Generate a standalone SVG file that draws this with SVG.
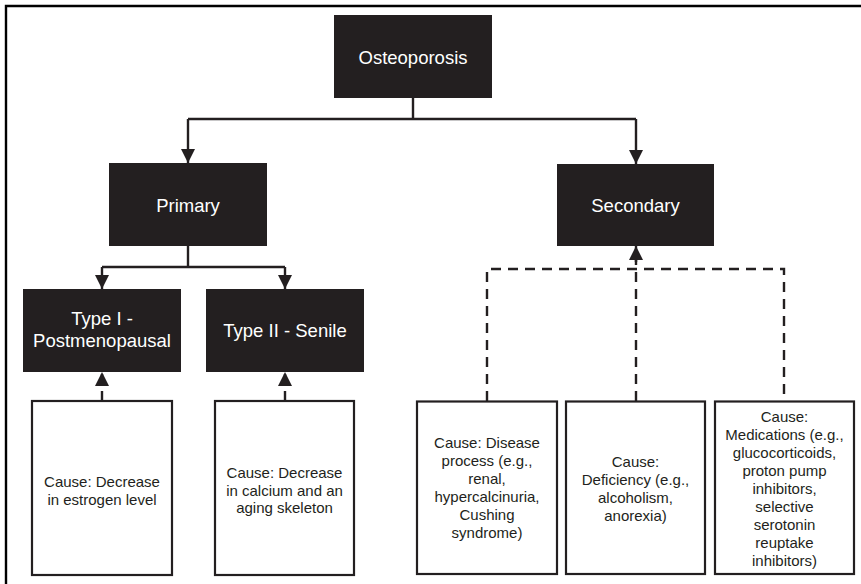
<svg xmlns="http://www.w3.org/2000/svg" width="861" height="584" viewBox="0 0 861 584">
<defs>
<style>
.dark{fill:#231f20;}
.cause{fill:#ffffff;stroke:#231f20;stroke-width:2.2;}
.lbl{font-family:"Liberation Sans",Arial,sans-serif;font-size:18.5px;fill:#ffffff;text-anchor:middle;}
.txt{font-family:"Liberation Sans",Arial,sans-serif;font-size:15px;fill:#231f20;text-anchor:middle;}
.conn{fill:none;stroke:#231f20;stroke-width:2.4;}
.dash{stroke-dasharray:10 7;}
.frame{fill:none;stroke:#000000;stroke-width:2.4;}
</style>
<marker id="arr" markerUnits="userSpaceOnUse" markerWidth="14" markerHeight="14" viewBox="0 0 13 13" refX="13" refY="6.5" orient="auto">
<path d="M0,0 L13,6.5 L0,13 Z" fill="#231f20"/>
</marker>
</defs>
<rect width="861" height="584" fill="#ffffff"/>
<path class="frame" d="M6,584 V6 H861"/>

<g id="connectors">
<path class="conn" d="M413,98 V119"/>
<path class="conn" d="M188,119 H636"/>
<path class="conn" d="M188,119 V163" marker-end="url(#arr)"/>
<path class="conn" d="M636,119 V164" marker-end="url(#arr)"/>
<path class="conn" d="M188,246 V267"/>
<path class="conn" d="M102,267 H285"/>
<path class="conn" d="M102,267 V289" marker-end="url(#arr)"/>
<path class="conn" d="M285,267 V289" marker-end="url(#arr)"/>
<path class="conn dash" d="M102,401 V372" marker-end="url(#arr)"/>
<path class="conn dash" d="M285,401 V372" marker-end="url(#arr)"/>
<path class="conn dash" d="M487,401 V269 H784 V401"/>
<path class="conn dash" d="M636,401 V258"/>
<path class="conn" d="M636,262 V246" marker-end="url(#arr)"/>
</g>

<g id="osteoporosis">
<rect class="dark" x="334" y="15" width="158" height="83"/>
<text class="lbl" x="413" y="63.5">Osteoporosis</text>
</g>
<g id="primary">
<rect class="dark" x="109" y="163" width="158" height="83"/>
<text class="lbl" x="188" y="211.5">Primary</text>
</g>
<g id="secondary">
<rect class="dark" x="557" y="164" width="157" height="82"/>
<text class="lbl" x="635.5" y="211.5">Secondary</text>
</g>
<g id="type1">
<rect class="dark" x="23" y="289" width="158" height="83"/>
<text class="lbl" x="102" y="325">Type I -</text>
<text class="lbl" x="102" y="347">Postmenopausal</text>
</g>
<g id="type2">
<rect class="dark" x="206" y="289" width="158" height="83"/>
<text class="lbl" x="285" y="336.5">Type II - Senile</text>
</g>

<g id="cause1">
<rect class="cause" x="32" y="401" width="140" height="174"/>
<text class="txt" x="102" y="487">Cause: Decrease</text>
<text class="txt" x="102" y="504.5">in estrogen level</text>
</g>
<g id="cause2">
<rect class="cause" x="215" y="401" width="139" height="174"/>
<text class="txt" x="284.5" y="478">Cause: Decrease</text>
<text class="txt" x="284.5" y="495.5">in calcium and an</text>
<text class="txt" x="284.5" y="513">aging skeleton</text>
</g>
<g id="cause3">
<rect class="cause" x="417" y="401.5" width="140" height="172.5"/>
<text class="txt" x="487" y="448">Cause: Disease</text>
<text class="txt" x="487" y="466">process (e.g.,</text>
<text class="txt" x="487" y="484">renal,</text>
<text class="txt" x="487" y="502">hypercalcinuria,</text>
<text class="txt" x="487" y="520">Cushing</text>
<text class="txt" x="487" y="538">syndrome)</text>
</g>
<g id="cause4">
<rect class="cause" x="566" y="401.5" width="139" height="172.5"/>
<text class="txt" x="635.5" y="466.5">Cause:</text>
<text class="txt" x="635.5" y="484.5">Deficiency (e.g.,</text>
<text class="txt" x="635.5" y="502.5">alcoholism,</text>
<text class="txt" x="635.5" y="520.5">anorexia)</text>
</g>
<g id="cause5">
<rect class="cause" x="715" y="401.5" width="139" height="172.5"/>
<text class="txt" x="784.5" y="422">Cause:</text>
<text class="txt" x="784.5" y="440">Medications (e.g.,</text>
<text class="txt" x="784.5" y="458">glucocorticoids,</text>
<text class="txt" x="784.5" y="476">proton pump</text>
<text class="txt" x="784.5" y="494">inhibitors,</text>
<text class="txt" x="784.5" y="512">selective</text>
<text class="txt" x="784.5" y="530">serotonin</text>
<text class="txt" x="784.5" y="548">reuptake</text>
<text class="txt" x="784.5" y="566">inhibitors)</text>
</g>
</svg>
